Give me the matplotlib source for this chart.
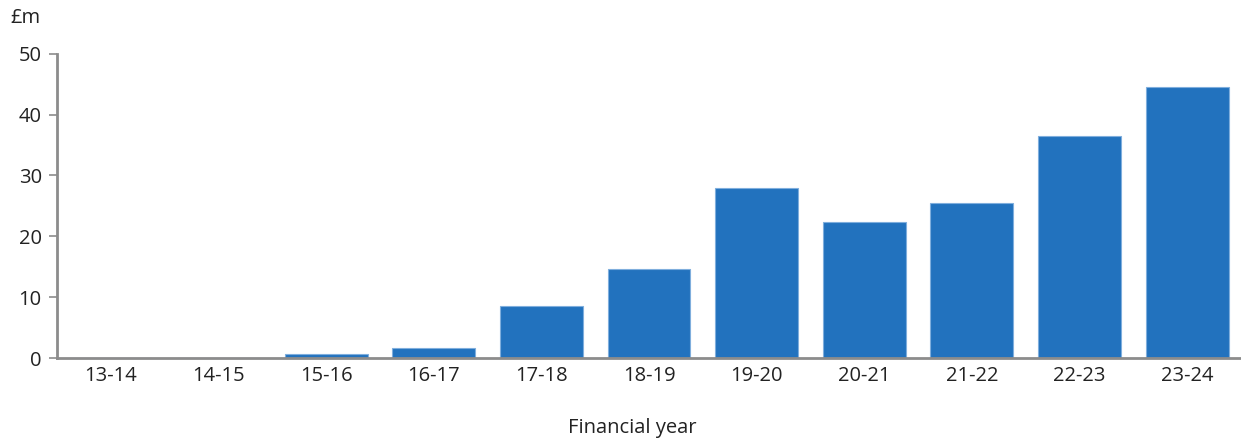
import matplotlib
matplotlib.use("Agg")
import matplotlib.pyplot as plt

plt.rcParams['font.family'] = ['Open Sans', 'DejaVu Sans']

categories = ["13-14", "14-15", "15-16", "16-17", "17-18", "18-19",
              "19-20", "20-21", "21-22", "22-23", "23-24"]
values = [0.0, 0.0, 0.65, 1.65, 8.6, 14.7, 28.0, 22.3, 25.4, 36.5, 44.5]
yticks = [0, 10, 20, 30, 40, 50]

fig = plt.figure(figsize=(12.41, 4.40), dpi=100)
ax = fig.add_axes([57/1241, 1-358/440, 1-57/1241, (358-53.7)/440])

x = list(range(len(categories)))
ax.bar(x, values, width=0.77, color="#2272BE", edgecolor="#7FAEDD", linewidth=0.8, zorder=2)

ax.set_xlim(-0.5, len(categories) - 0.5)
ax.set_ylim(0, 50)
ax.set_yticks(yticks)
ax.set_xticks(x)
ax.set_xticklabels(categories)

for s in ["top", "right"]:
    ax.spines[s].set_visible(False)
for s in ["left", "bottom"]:
    ax.spines[s].set_color("#8C8C8C")
    ax.spines[s].set_linewidth(2)
ax.spines["bottom"].set_zorder(3)

fs = 14.5
ax.tick_params(axis="y", length=6, width=1.2, color="#8C8C8C", labelsize=fs, pad=5, labelcolor="#222222")
ax.tick_params(axis="x", length=0, labelsize=fs, pad=6, labelcolor="#222222")

ax.set_xlabel("Financial year", fontsize=14.5, color="#222222")
ax.xaxis.set_label_coords((632 - 57) / (1241 - 57), -(428 - 358) / (358 - 53.7))
ax.xaxis.label.set_va("center")
fig.text(10/1241, 1-18/440, "£m", fontsize=fs, color="#222222", va="center", ha="left")

fig.savefig("out.png", dpi=100)
